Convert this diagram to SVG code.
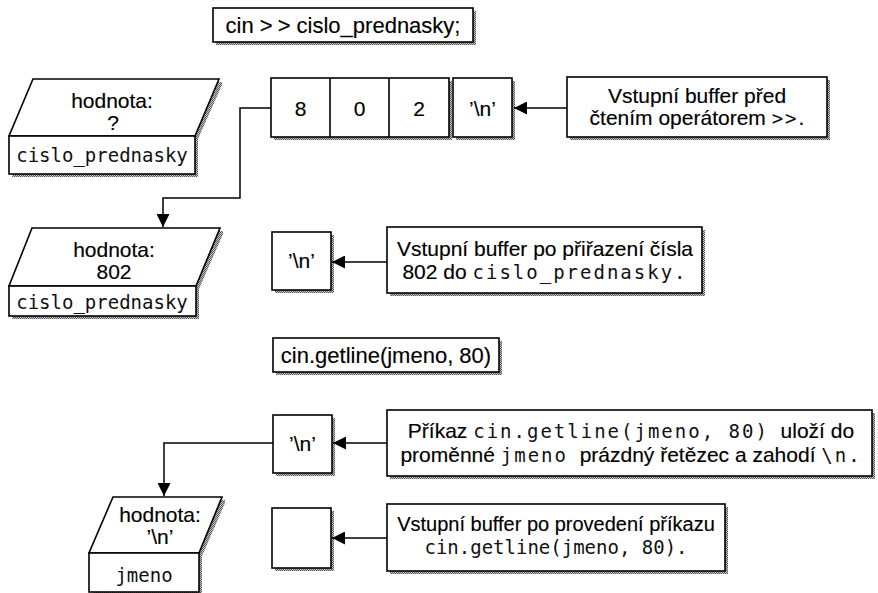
<svg xmlns="http://www.w3.org/2000/svg" width="878" height="593" viewBox="0 0 878 593">
  <defs>
    <!-- fine dithered grey used for the drop shadows -->
    <pattern id="grain" width="2" height="2" patternUnits="userSpaceOnUse">
      <rect width="2" height="2" fill="#c8c8c8"/>
      <rect width="1" height="1" fill="#555"/>
      <rect x="1" y="1" width="1" height="1" fill="#555"/>
    </pattern>
    <marker id="head" viewBox="0 0 13 13" refX="13" refY="6.5" markerWidth="13" markerHeight="13" markerUnits="userSpaceOnUse" orient="auto">
      <path d="M0,0 L13,6.5 L0,13 Z" fill="#000"/>
    </marker>
  </defs>
  <style>
    .box { fill: #fff; stroke: #000; stroke-width: 1.6; }
    .shadow { fill: url(#grain); stroke: none; }
    .wire { fill: none; stroke: #000; stroke-width: 1.5; marker-end: url(#head); }
    .sans { font-family: "Liberation Sans", Arial, Helvetica, sans-serif; font-size: 21px; fill: #000; stroke: #000; stroke-width: 0.15px; }
    .code { font-size: 22px; }
    .cell { font-size: 21px; }
    .small { font-size: 20px; }
    .mono { font-family: "DejaVu Sans Mono", "Liberation Mono", monospace; font-size: 19px; fill: #111; stroke: none; }
    .nmono { font-family: "DejaVu Sans Mono", "Liberation Mono", monospace; font-size: 19px; letter-spacing: 2px; fill: #111; stroke: none; }
  </style>
  <rect width="878" height="593" fill="#fff"/>

  <!-- statement: cin >> cislo_prednasky; -->
  <g id="stmt-cin">
    <rect class="shadow" x="216" y="11" width="260" height="34"/>
    <rect class="box" x="213" y="8" width="260" height="34"/>
    <text class="sans code" x="343" y="33" text-anchor="middle">cin &gt;<tspan dx="5">&gt;</tspan> cislo_prednasky;</text>
  </g>

  <!-- variable cislo_prednasky, value unknown -->
  <g id="var-before">
    <polygon class="shadow" points="36,82 222,82 222,85 198,139 198,177 12,177"/>
    <polygon class="box" points="33,79 219,79 195,136 9,136"/>
    <rect class="box" x="9" y="136" width="186" height="38"/>
    <text class="sans" x="112" y="108" text-anchor="middle">hodnota:</text>
    <text class="sans" x="113" y="130" text-anchor="middle">?</text>
    <text class="mono" x="102" y="162" text-anchor="middle">cislo_prednasky</text>
  </g>

  <!-- input buffer: 8 0 2 '\n' -->
  <g id="buf-digits">
    <rect class="shadow" x="274" y="81" width="178" height="59"/>
    <rect class="box" x="271" y="78" width="178" height="59"/>
    <line x1="330" y1="78" x2="330" y2="137" stroke="#000" stroke-width="1.6"/>
    <line x1="389" y1="78" x2="389" y2="137" stroke="#000" stroke-width="1.6"/>
    <text class="sans cell" x="300.5" y="116" text-anchor="middle">8</text>
    <text class="sans cell" x="359.5" y="116" text-anchor="middle">0</text>
    <text class="sans cell" x="419" y="116" text-anchor="middle">2</text>
  </g>
  <g id="buf-nl-1">
    <rect class="shadow" x="456" y="81" width="59" height="59"/>
    <rect class="box" x="453" y="78" width="59" height="59"/>
    <text class="sans cell" x="482.5" y="116" text-anchor="middle">’\n’</text>
  </g>

  <g id="note-1">
    <rect class="shadow" x="570" y="80" width="260" height="60"/>
    <rect class="box" x="567" y="77" width="260" height="60"/>
    <text class="sans" x="697" y="103" text-anchor="middle">Vstupní buffer před</text>
    <text class="sans" x="697" y="125" text-anchor="middle">čtením operátorem <tspan class="nmono">&gt;&gt;</tspan>.</text>
  </g>

  <!-- variable cislo_prednasky after extraction -->
  <g id="var-after">
    <polygon class="shadow" points="35,231 223,231 223,234 199,289 199,319 12,319"/>
    <polygon class="box" points="32,228 220,228 196,286 9,286"/>
    <rect class="box" x="9" y="286" width="187" height="30"/>
    <text class="sans" x="114" y="257" text-anchor="middle">hodnota:</text>
    <text class="sans" x="114" y="279" text-anchor="middle">802</text>
    <text class="mono" x="102" y="309" text-anchor="middle">cislo_prednasky</text>
  </g>

  <g id="buf-nl-2">
    <rect class="shadow" x="275" y="235" width="59" height="58"/>
    <rect class="box" x="272" y="232" width="59" height="58"/>
    <text class="sans cell" x="301.5" y="268" text-anchor="middle">’\n’</text>
  </g>

  <g id="note-2">
    <rect class="shadow" x="390" y="230" width="315" height="66"/>
    <rect class="box" x="387" y="227" width="315" height="66"/>
    <text class="sans" x="545" y="256" text-anchor="middle">Vstupní buffer po přiřazení čísla</text>
    <text class="sans" x="545" y="279" text-anchor="middle">802 do <tspan class="nmono">cislo_prednasky.</tspan></text>
  </g>

  <!-- statement: cin.getline(jmeno, 80) -->
  <g id="stmt-getline">
    <rect class="shadow" x="276" y="341" width="226" height="34"/>
    <rect class="box" x="273" y="338" width="226" height="34"/>
    <text class="sans code" x="386" y="363" text-anchor="middle">cin.getline(jmeno, 80)</text>
  </g>

  <g id="buf-nl-3">
    <rect class="shadow" x="276" y="418" width="59" height="58"/>
    <rect class="box" x="273" y="415" width="59" height="58"/>
    <text class="sans cell" x="302.5" y="451" text-anchor="middle">’\n’</text>
  </g>

  <g id="note-3">
    <rect class="shadow" x="390" y="413" width="485" height="66"/>
    <rect class="box" x="387" y="410" width="485" height="66"/>
    <text class="sans" x="631" y="438" text-anchor="middle">Příkaz <tspan class="nmono">cin.getline(jmeno, 80)</tspan>&#160; uloží do</text>
    <text class="sans" x="631" y="462" text-anchor="middle">proměnné <tspan class="nmono">jmeno</tspan>&#160; prázdný řetězec a zahodí <tspan class="nmono">\n.</tspan></text>
  </g>

  <!-- variable jmeno -->
  <g id="var-jmeno">
    <polygon class="shadow" points="116,500 225,500 225,503 202,556 202,596 92,596"/>
    <polygon class="box" points="113,497 222,497 199,553 89,553"/>
    <rect class="box" x="89" y="553" width="110" height="39"/>
    <text class="sans" x="160" y="522" text-anchor="middle">hodnota:</text>
    <text class="sans" x="160" y="544" text-anchor="middle">’\n’</text>
    <text class="mono" x="144" y="582" text-anchor="middle">jmeno</text>
  </g>

  <g id="buf-empty">
    <rect class="shadow" x="275" y="511" width="59" height="60"/>
    <rect class="box" x="272" y="508" width="59" height="60"/>
  </g>

  <g id="note-4">
    <rect class="shadow" x="390" y="507" width="338" height="67"/>
    <rect class="box" x="387" y="504" width="338" height="67"/>
    <text class="sans small" x="556" y="531" text-anchor="middle">Vstupní buffer po provedení příkazu</text>
    <text class="mono" x="556" y="554" text-anchor="middle">cin.getline(jmeno, 80).</text>
  </g>

  <!-- connectors -->
  <g id="connectors">
    <path class="wire" d="M567,108 H514"/>
    <path class="wire" d="M271,108 H240 V198 H163 V227"/>
    <path class="wire" d="M387,262 H332"/>
    <path class="wire" d="M387,443 H333"/>
    <path class="wire" d="M273,443 H164 V496"/>
    <path class="wire" d="M387,538 H332"/>
  </g>
</svg>
